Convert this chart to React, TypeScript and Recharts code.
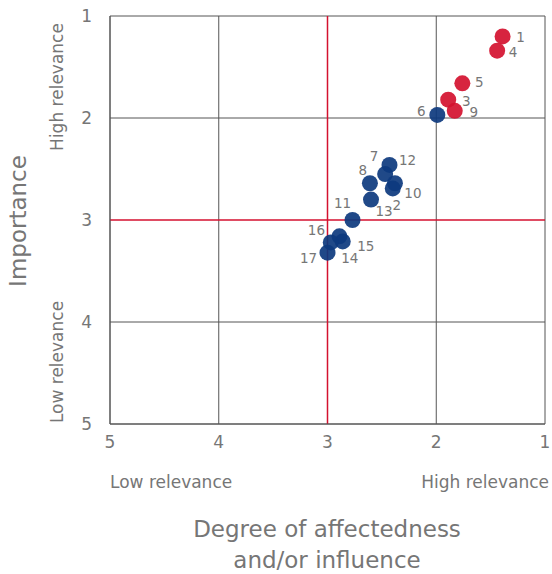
import { CartesianGrid, ReferenceLine, Scatter, ScatterChart, XAxis, YAxis } from "recharts";

// topic ids with (affectedness, importance)
const redIds = [1, 4, 5, 3, 9];
const redX = [1.39, 1.44, 1.76, 1.89, 1.83];
const redY = [1.2, 1.34, 1.66, 1.82, 1.93];

const blueIds = [6, 12, 7, 10, 2, 8, 13, 11, 16, 15, 14, 17];
const blueX = [1.99, 2.43, 2.47, 2.38, 2.4, 2.61, 2.6, 2.77, 2.89, 2.86, 2.97, 3.0];
const blueY = [1.97, 2.46, 2.55, 2.64, 2.69, 2.64, 2.8, 3.0, 3.16, 3.21, 3.22, 3.32];

const ticks = [1, 2, 3, 4, 5];
const midpoint = 3;
const gridValues = ticks.filter((t) => t !== midpoint);

// where each number label sits relative to its dot
const labelOffset: Record<number, [number, number]> = {
  1: [18, 1], 4: [16, 1], 5: [17, -1], 3: [18, 1], 9: [19, 1], 6: [-16, -4],
  12: [18, -5], 7: [-11, -18], 10: [18, 10], 2: [4, 17], 8: [-7, -13],
  13: [13, 11], 11: [-10, -17], 16: [-23, -6], 15: [23, 5], 14: [19, 16], 17: [-19, 5],
};

const red = redIds.map((id, i) => ({ id, x: redX[i], y: redY[i] }));
const blue = blueIds.map((id, i) => ({ id, x: blueX[i], y: blueY[i] }));

const font = "'DejaVu Sans', sans-serif";
const weight = 400;
const textColor = "#767676";
const gridColor = "#555";
const accent = "#d4112f";

function Dot(color: string) {
  return (props: any) => {
    const { cx, cy, payload } = props;
    const [dx, dy] = labelOffset[payload.id] || [15, 0];
    return (
      <g>
        <circle cx={cx} cy={cy} r={8} fill={color} fillOpacity={0.92} />
        <text
          x={cx + dx}
          y={cy + dy}
          textAnchor="middle"
          dominantBaseline="central"
          fontSize={13.5}
          fontWeight={weight}
          fill={textColor}
          fontFamily={font}
        >
          {payload.id}
        </text>
      </g>
    );
  };
}

const tickStyle = { fill: textColor, fontSize: 17, fontFamily: font, fontWeight: weight };

export default function App() {
  return (
    <div style={{ position: "absolute", left: 0, top: 0, width: 552, height: 574 }}>
      <ScatterChart width={552} height={574} margin={{ top: 16, right: 7, left: 0, bottom: 0 }}>
        <CartesianGrid stroke={gridColor} strokeWidth={1} vertical={false} horizontalValues={gridValues} />
        <XAxis
          type="number"
          dataKey="x"
          domain={[1, 5]}
          reversed
          ticks={ticks}
          height={150}
          axisLine={{ stroke: gridColor }}
          tickLine={false}
          tick={tickStyle}
          tickMargin={6}
        />
        <YAxis
          type="number"
          dataKey="y"
          domain={[1, 5]}
          reversed
          ticks={ticks}
          width={110}
          axisLine={{ stroke: gridColor }}
          tickLine={false}
          tick={tickStyle}
          tickMargin={12}
        />
        {gridValues.map((v) => (
          <ReferenceLine key={v} x={v} stroke={gridColor} strokeWidth={1} />
        ))}
        <ReferenceLine y={midpoint} stroke={accent} strokeWidth={1.5} />
        <ReferenceLine x={midpoint} stroke={accent} strokeWidth={1.5} />
        <Scatter data={blue} shape={Dot("#0d3a7e")} isAnimationActive={false} />
        <Scatter data={red} shape={Dot(accent)} isAnimationActive={false} />
      </ScatterChart>
      <svg width={552} height={574} style={{ position: "absolute", left: 0, top: 0, pointerEvents: "none" }}>
        <g fontFamily={font} fontWeight={weight} fill={textColor}>
          <text x={18} y={221} fontSize={23} textAnchor="middle" transform="rotate(-90 18 221)" dominantBaseline="central">
            Importance
          </text>
          <text x={57} y={87} fontSize={17} textAnchor="middle" transform="rotate(-90 57 87)" dominantBaseline="central">
            High relevance
          </text>
          <text x={57} y={362} fontSize={17} textAnchor="middle" transform="rotate(-90 57 362)" dominantBaseline="central">
            Low relevance
          </text>
          <text x={110} y={482} fontSize={17} dominantBaseline="central">
            Low relevance
          </text>
          <text x={549} y={482} fontSize={17} textAnchor="end" dominantBaseline="central">
            High relevance
          </text>
          <text x={327} y={529} fontSize={23} textAnchor="middle" dominantBaseline="central">
            Degree of affectedness
          </text>
          <text x={327} y={560} fontSize={23} textAnchor="middle" dominantBaseline="central">
            and/or influence
          </text>
        </g>
      </svg>
    </div>
  );
}
